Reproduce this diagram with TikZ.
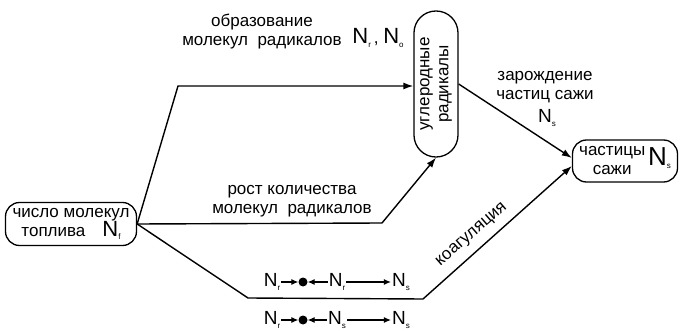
\documentclass[tikz,border=0pt]{standalone}
\usepackage{fontspec}
\setmainfont{Liberation Sans}
\usetikzlibrary{arrows.meta}

\newcommand{\Nsym}[2]{{\fontsize{#1}{#1}\selectfont N}\raisebox{-0.35ex}{\fontsize{8}{8}\selectfont #2}}

\tikzset{
  block/.style={draw, line width=1.3pt, rounded corners=14pt, align=center, inner sep=2pt},
  lbl/.style={align=center, inner sep=1pt},
  arr/.style={line width=1.4pt, -{Latex[length=10pt,width=7pt]}},
  smallarr/.style={line width=1.1pt, -{Latex[length=7pt,width=6pt]}},
  react/.style={inner sep=1pt},
  blob/.style={circle, fill, inner sep=0pt, minimum size=9pt},
}

\begin{document}
\begin{tikzpicture}[x=1pt, y=-1pt, font=\fontsize{17}{19}\selectfont]
\useasboundingbox (0,0) rectangle (680,331);

% blocks
\node[block, minimum width=131pt, minimum height=43pt] (fuel) at (71,224) {число молекул\\топлива\quad\Nsym{22}{f}};
\node[block, rounded corners=21.9pt, minimum width=44pt, minimum height=146pt] (rad) at (436,84) {};
\node[lbl, rotate=90] (radtxt) at (rad) {углеродные\\радикалы};
\node[block, minimum width=105pt, minimum height=41pt] (soot) at (625,161)
  {\begin{tabular}{@{}c@{}}частицы\\сажи\end{tabular}\,\Nsym{26}{s}};

% bends
\coordinate (k1) at (178,86);
\coordinate (k2) at (382,223);
\coordinate (k3) at (248,298);
\coordinate (k4) at (423,299);

% connectors
\draw[arr] (fuel.east) -- (k1) -- (k1 -| rad.west);
\draw[arr] (fuel.east) -- (k2) -- (rad.south);
\draw[arr] (fuel.east) -- (k3) -- (k4) -- ([yshift=-5pt]soot.west);
\draw[arr] (rad.east) -- ([yshift=3pt]soot.west);

% labels
\node[lbl] (formlbl) at (262,32) {образование\\молекул\ \ радикалов};
\node[lbl] (nro) at (378,38) {\Nsym{22}{r}\,, \Nsym{22}{o}};
\node[lbl] (nuclbl) at (545,87) {зарождение\\частиц сажи};
\node[lbl] (nsnuc) at (547,118) {\Nsym{19}{s}};
\node[lbl] (growlbl) at (292,201) {рост количества\\молекул\ \ радикалов};
\node[lbl, rotate=41] (coaglbl) at (472,235) {коагуляция};

% reactions
\node[react] (ra1) at (272,282) {\Nsym{19}{r}};
\node[blob] (dot1) at (303,282) {};
\node[react] (rb1) at (337,282) {\Nsym{19}{r}};
\node[react] (rc1) at (401,282) {\Nsym{19}{s}};
\draw[smallarr] (ra1) -- (dot1);
\draw[smallarr] (rb1) -- (dot1);
\draw[smallarr] (rb1) -- (rc1);

\node[react] (ra2) at (272,320) {\Nsym{19}{r}};
\node[blob] (dot2) at (303,320) {};
\node[react] (rb2) at (337,320) {\Nsym{19}{s}};
\node[react] (rc2) at (401,320) {\Nsym{19}{s}};
\draw[smallarr] (ra2) -- (dot2);
\draw[smallarr] (rb2) -- (dot2);
\draw[smallarr] (rb2) -- (rc2);
\end{tikzpicture}
\end{document}
